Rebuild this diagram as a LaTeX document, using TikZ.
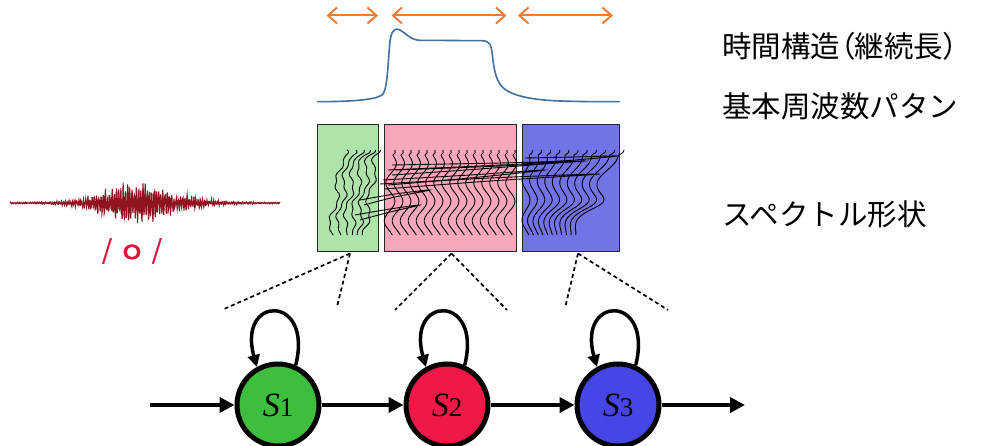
\documentclass[tikz,border=0pt]{standalone}
\usepackage{fontspec}
\newfontfamily\jpfont{Noto Sans CJK JP}
\newfontfamily\jppfont[RawFeature=+palt]{Noto Sans CJK JP}
\newfontfamily\phonfont[FakeBold=1.2]{Noto Sans CJK JP}
\newfontfamily\tmsfont{Liberation Serif}
\usetikzlibrary{arrows.meta,calc}
\definecolor{durorange}{HTML}{ED7D31}
\definecolor{fzeroblue}{HTML}{41719C}
\definecolor{wavered}{HTML}{8E1422}
\definecolor{phonred}{HTML}{E1143C}
\definecolor{boxgreen}{HTML}{AEE3AA}
\definecolor{boxpink}{HTML}{F9A7BA}
\definecolor{boxblue}{HTML}{7373E8}
\definecolor{stgreen}{HTML}{3DBE3D}
\definecolor{stred}{HTML}{F01846}
\definecolor{stblue}{HTML}{4646E6}
\newcommand{\stlabel}[1]{\raisebox{-4pt}{\tmsfont\fontsize{34}{34}\selectfont\itshape S\upshape\fontsize{27}{27}\selectfont #1}}
\begin{document}
\begin{tikzpicture}[x=1pt,y=-1pt,
  durarrow/.style={draw=durorange, line width=2pt,
    {Straight Barb[length=9pt,width=16pt]}-{Straight Barb[length=9pt,width=16pt]}},
  segbox/.style={draw=black!85, line width=1pt, minimum height=127pt, inner sep=0pt},
  trace/.style={draw=black, line width=0.9pt},
  guide/.style={draw=black, line width=1.7pt, dash pattern=on 4pt off 3pt},
  hmmstate/.style={circle, draw=black, line width=5pt, minimum size=82pt, inner sep=0pt},
  trans/.style={draw=black, line width=4pt, -{Triangle[length=15pt,width=15pt]}},
  selfloop/.style={draw=black, line width=3.5pt, -{Triangle[length=12pt,width=12pt]}},
  jptext/.style={anchor=west, inner sep=0pt, font=\jpfont\fontsize{29.5}{32}\selectfont}
]
\useasboundingbox (0,0) rectangle (988,446);
\clip (0,0) rectangle (988,446);

% duration arrows
\coordinate (d1l) at (326.5,15.5); \coordinate (d1r) at (378,15.5);
\coordinate (d2l) at (391.5,15.5); \coordinate (d2r) at (506.5,15.5);
\coordinate (d3l) at (518,15.5);   \coordinate (d3r) at (613,15.5);
\draw[durarrow] (d1l) -- (d1r);
\draw[durarrow] (d2l) -- (d2r);
\draw[durarrow] (d3l) -- (d3r);

% F0 contour
\draw[fzeroblue, line width=1.6pt]
  (317,101.7) .. controls (350,101.7) and (375,100) .. (382,95)
  .. controls (389,90) and (388,45) .. (391,36)
  .. controls (393,29) and (396,28) .. (400,30)
  .. controls (406,33) and (410,40) .. (420,40.3)
  -- (482,40.7)
  .. controls (490,41) and (491,45) .. (492,52)
  .. controls (494,70) and (496,84) .. (506,90)
  .. controls (515,96) and (530,99) .. (550,100.5)
  .. controls (570,101.7) and (600,101.7) .. (620,101.7);

% segment boxes
\node[segbox, fill=boxgreen, minimum width=61pt]  (bg) at (347.5,188.5) {};
\node[segbox, fill=boxpink,  minimum width=132pt] (bp) at (450.5,188.5) {};
\node[segbox, fill=boxblue,  minimum width=97pt]  (bb) at (571,188.5) {};

% spectral envelopes
\foreach \k in {0,...,5} {
  \pgfmathsetmacro{\xo}{343+6.8*\k}
  \draw[trace] plot[smooth, variable=\t, domain=150:235, samples=34]
    ({\xo + 5*exp(-((\t-151)/3)^2) - 0.15*(\t-150) + 3*sin((\t-150)*9+40*\k) + 1.2*sin((\t-150)*26)}, \t);
}
\foreach \k in {0,...,15} {
  \pgfmathsetmacro{\xo}{392+8*\k}
  \draw[trace] plot[smooth, variable=\t, domain=150:235, samples=34]
    ({\xo + 7*exp(-((\t-151)/2.5)^2) + 5*sin((\t-150)*9.5-40) - 0.04*(\t-150)}, \t);
}
\foreach \k in {0,...,10} {
  \pgfmathsetmacro{\xo}{526+9.2*\k}
  \draw[trace] plot[smooth, variable=\t, domain=150:235, samples=34]
    ({\xo + 7*exp(-((\t-151)/2.5)^2) + 4*sin((\t-150)*9) + 0.9*\k*exp(-((\t-202)/9)^2) - 4.5*\k*(\t-150)/85}, \t);
}
\draw[trace] plot[smooth] coordinates {(388,170) (480,166) (565,162) (480,169) (392,175)};
\draw[trace] plot[smooth] coordinates {(392,165) (500,163) (585,161) (500,166) (396,170)};
\draw[trace] plot[smooth] coordinates {(383,180) (470,175) (545,170) (470,178) (388,185)};
\draw[trace] plot[smooth] coordinates {(380,184) (490,178) (600,174) (490,181) (385,189)};
\draw[trace] plot[smooth] coordinates {(525,158) (575,157) (617,156) (575,160) (528,163)};
\draw[trace] plot[smooth] coordinates {(355,215) (390,209) (420,205) (390,212) (360,220)};
\draw[trace] plot[smooth] coordinates {(360,200) (395,194) (430,190) (395,197) (364,205)};

% speech waveform
\pgfmathsetseed{7}
\draw[wavered, line width=1.1pt] plot[domain=10:280, samples=600, variable=\x]
  (\x, {203 + (1.0 + 21*exp(-((\x-132)/(\x<132 ? 42 : 55))^2))*(0.65*sin(10*mod(16.3*\x,36))+0.35*rand)});
\node[text=phonred, font=\phonfont\fontsize{26}{28}\selectfont, inner sep=0pt] (phon) at (132,251)
  {/\hspace{10pt}\scalebox{1.25}[1]{o}\hspace{10pt}/};

% labels
\node[jptext] (lbl1) at (722,46) {\jppfont 時間構造（継続長）};
\node[jptext] (lbl2) at (722,106) {基本周波数パタン};
\node[jptext] (lbl3) at (722,214) {スペクトル形状};

% HMM states
\node[hmmstate, fill=stgreen] (s1) at (278,405) {\stlabel{1}};
\node[hmmstate, fill=stred]   (s2) at (447,405) {\stlabel{2}};
\node[hmmstate, fill=stblue]  (s3) at (618,405) {\stlabel{3}};

% guides from segments to states
\coordinate (gs) at ($(bg.south)+(2.5,1)$);
\coordinate (ps) at ($(bp.south)+(1,1)$);
\coordinate (bs) at ($(bb.south)+(7,1)$);
\coordinate (g1) at (224,309); \coordinate (g2) at (337,307);
\coordinate (p1) at (395,310); \coordinate (p2) at (507,310);
\coordinate (b1) at (565,308); \coordinate (b2) at (668,310);
\draw[guide] (gs) -- (g1); \draw[guide] (gs) -- (g2);
\draw[guide] (ps) -- (p1); \draw[guide] (ps) -- (p2);
\draw[guide] (bs) -- (b1); \draw[guide] (bs) -- (b2);

% transitions
\coordinate (start) at (150,405);
\coordinate (stop) at (745,405);
\draw[trans] (start) -- (s1);
\draw[trans] (s1) -- (s2);
\draw[trans] (s2) -- (s3);
\draw[trans] (s3) -- (stop);
\draw[selfloop] (s1.66) .. controls +(18,-72) and +(-20,-72) .. (s1.119);
\draw[selfloop] (s2.66) .. controls +(18,-72) and +(-20,-72) .. (s2.119);
\draw[selfloop] (s3.66) .. controls +(18,-72) and +(-20,-72) .. (s3.119);
\end{tikzpicture}
\end{document}
